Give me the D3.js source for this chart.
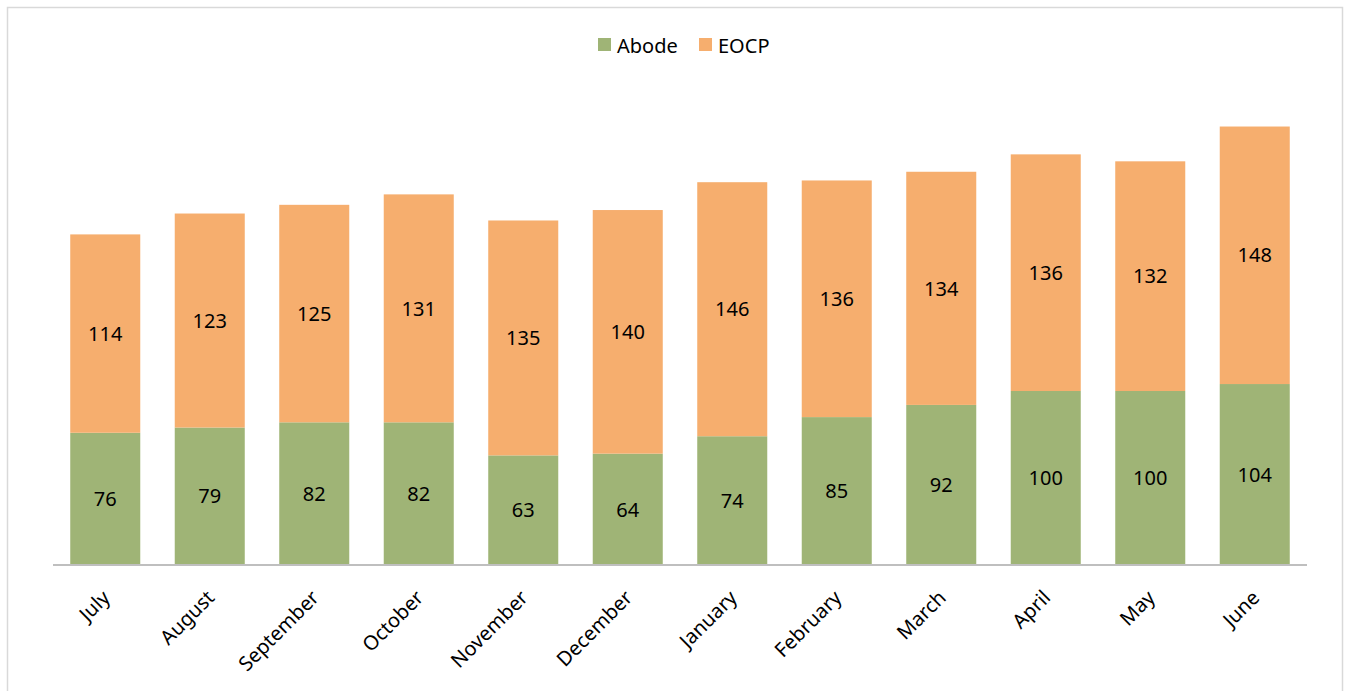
<!DOCTYPE html>
<html>
<head>
<meta charset="utf-8">
<script src="https://cdn.jsdelivr.net/npm/d3@7"></script>
<style>
  html, body { margin: 0; padding: 0; background: #fff; }
  svg { display: block; }
  text { font-family: "Noto Sans", "Open Sans", sans-serif; fill: #000; }
</style>
</head>
<body>
<svg id="chart" width="1353" height="691"></svg>
<script>
// Monthly counts, stacked: Abode at the bottom, EOCP on top
const months = ["July", "August", "September", "October", "November", "December",
                "January", "February", "March", "April", "May", "June"];
const abode = [76, 79, 82, 82, 63, 64, 74, 85, 92, 100, 100, 104];
const eocp  = [114, 123, 125, 131, 135, 140, 146, 136, 134, 136, 132, 148];
const seriesNames = ["Abode", "EOCP"];
const seriesColors = ["#9fb476", "#f6ae6e"];

const svg = d3.select("#chart");
const W = 1353, H = 691;

// chart frame
svg.append("rect")
  .attr("x", 7.5).attr("y", 7.5)
  .attr("width", 1335).attr("height", 700)
  .attr("fill", "#fff").attr("stroke", "#d9d9d9").attr("stroke-width", 1.5);

const margin = { left: 53, right: 46, top: 43, bottom: 126 };

const x = d3.scaleBand()
  .domain(months)
  .range([margin.left, W - margin.right])
  .paddingInner(0.33)
  .paddingOuter(0.165);

const y = d3.scaleLinear()
  .domain([0, 300])
  .range([H - margin.bottom, margin.top]);

const rows = months.map((m, i) => ({ month: m, Abode: abode[i], EOCP: eocp[i] }));
const stacked = d3.stack().keys(seriesNames)(rows);

const layers = svg.append("g").selectAll("g")
  .data(stacked)
  .join("g")
  .attr("fill", (d, i) => seriesColors[i]);

layers.selectAll("rect")
  .data(d => d)
  .join("rect")
  .attr("x", d => x(d.data.month))
  .attr("width", x.bandwidth())
  .attr("y", d => y(d[1]))
  .attr("height", d => y(d[0]) - y(d[1]));

// value labels centred in each segment
layers.selectAll("text")
  .data((d) => d.map(v => ({ v, key: d.key })))
  .join("text")
  .attr("x", d => x(d.v.data.month) + x.bandwidth() / 2)
  .attr("y", d => (y(d.v[0]) + y(d.v[1])) / 2)
  .attr("dy", "0.36em")
  .attr("text-anchor", "middle")
  .attr("font-size", 20)
  .text(d => d.v.data[d.key]);

// category axis
const xAxis = svg.append("g")
  .attr("transform", `translate(0,${y(0)})`)
  .call(d3.axisBottom(x).tickSize(0).tickPadding(0));
xAxis.select(".domain").attr("stroke", "#bfbfbf").attr("stroke-width", 2)
  .attr("d", `M${margin.left},0H${W - margin.right}`);
xAxis.selectAll("text")
  .attr("font-size", 20)
  .attr("font-family", "\"Noto Sans\", sans-serif")
  .attr("fill", "#000")
  .attr("text-anchor", "end")
  .attr("dy", "0.35em")
  .attr("transform", "translate(1,29) rotate(-45)");

// legend
const legend = svg.append("g").attr("transform", "translate(598,45)");
const legendX = [0, 101];
seriesNames.forEach((name, i) => {
  const g = legend.append("g").attr("transform", `translate(${legendX[i]},0)`);
  g.append("rect").attr("x", 0).attr("y", -7).attr("width", 13).attr("height", 13)
    .attr("fill", seriesColors[i]);
  g.append("text").attr("x", 19).attr("y", 0).attr("dy", "0.38em")
    .attr("font-size", 20).text(name);
});
</script>
</body>
</html>
